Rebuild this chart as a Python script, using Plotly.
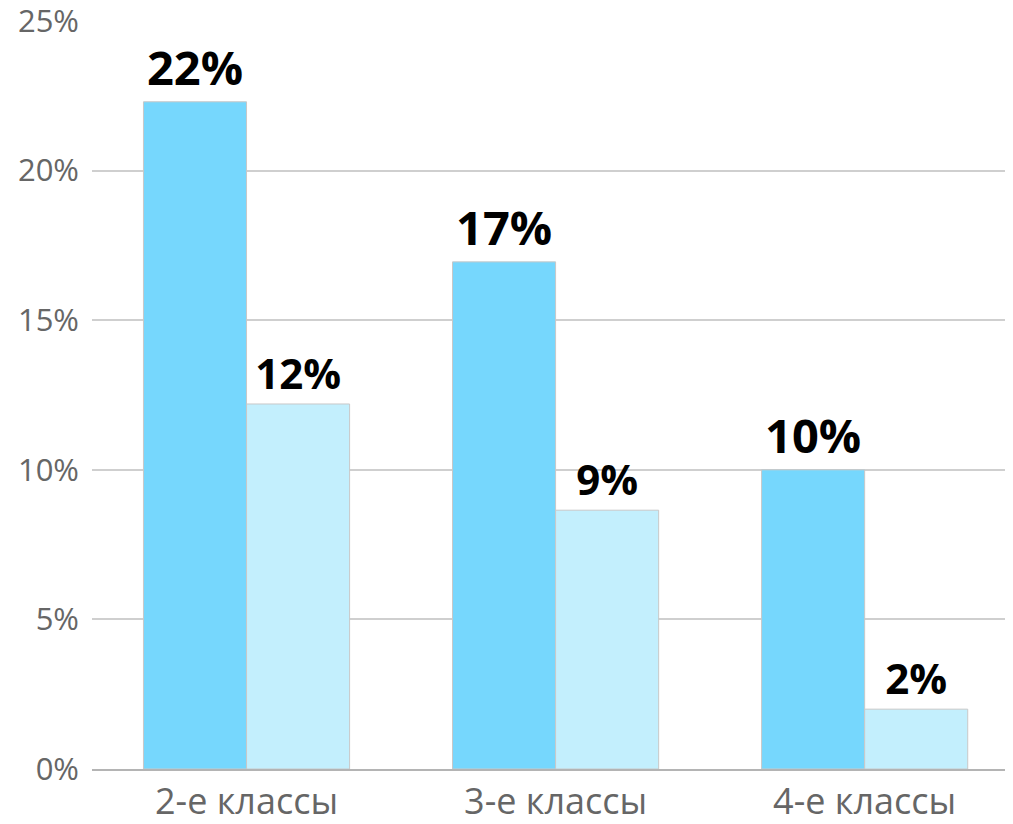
import plotly.graph_objects as go

categories = ["2-е классы", "3-е классы", "4-е классы"]
series_a = [22.3, 16.95, 10.0]
series_b = [12.2, 8.65, 2.0]
tick_vals = [0, 5, 10, 15, 20, 25]
tick_text = ["0%", "5%", "10%", "15%", "20%", "25%"]

fig = go.Figure()
fig.add_trace(go.Bar(
    x=categories, y=series_a, name="Серия 1",
    marker=dict(color="#76D7FD", line=dict(color="#C8C8C8", width=1)),
    texttemplate="%{y:.0f}%", textposition="outside", cliponaxis=False,
    constraintext="none",
    textfont=dict(family="Open Sans", size=47, color="#000000", weight="bold"),
))
fig.add_trace(go.Bar(
    x=categories, y=series_b, name="Серия 2",
    marker=dict(color="#C3EFFD", line=dict(color="#C8C8C8", width=1)),
    texttemplate="%{y:.0f}%", textposition="outside", cliponaxis=False,
    constraintext="none",
    textfont=dict(family="Open Sans", size=42, color="#000000", weight="bold"),
))

fig.update_layout(
    width=1005, height=816,
    margin=dict(l=84, r=0, t=13, b=55, autoexpand=False),
    paper_bgcolor="white", plot_bgcolor="white",
    barmode="group", bargap=0.333, bargroupgap=0,
    showlegend=False,
    font=dict(family="Open Sans", color="#666666"),
    xaxis=dict(
        range=[-0.5, 2.48], showgrid=False, showline=True,
        linecolor="#B4B4B4", linewidth=2, automargin=False,
        tickfont=dict(size=36, color="#666666"),
        ticks="", ticklabelstandoff=0,
    ),
    yaxis=dict(
        range=[0, 25.0001], tickvals=tick_vals, ticktext=tick_text,
        showgrid=True, gridcolor="#CFCFCF", gridwidth=2,
        zeroline=False, showline=False, automargin=False,
        tickfont=dict(size=31, color="#666666"),
        ticks="", ticklabelstandoff=12, ticklabeloverflow="allow",
    ),
)

fig.write_html("out.html")
